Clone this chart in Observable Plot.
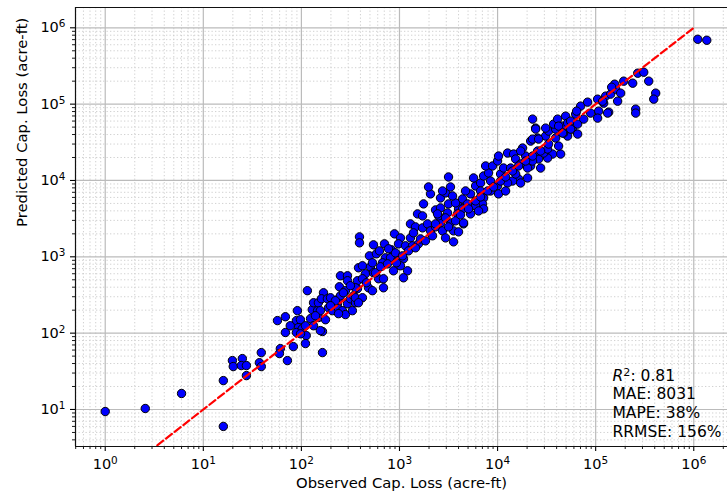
<!DOCTYPE html>
<html><head><meta charset="utf-8">
<script src="https://cdn.jsdelivr.net/npm/d3@7"></script>
<script src="https://cdn.jsdelivr.net/npm/@observablehq/plot@0.6"></script>
<style>body{margin:0;background:#fff} svg{display:block}</style>
</head><body><div id="chart"></div>
<script>
// Observed vs predicted capacity loss (acre-ft)
const observed = [
1,2.56,6.0,16,16,19.8,20.2,25,24.4,27.5,27.5,39,37.3,39,61,59.7,72,57,68.7,68.7,
82.8,91,89,97.7,93,89,102,112,115,124,133,129,146,149,164,164,176,133,149,168,
160,184,189,207,233,239,244,239,262,281,295,316,331,356,373,250,295,295,382,340,
391,391,543,703,889,1023,828,977,1151,1294,1358,1563,1294,1456,1718,1931,2070,2330,2620,2746,
2946,3556,3556,4498,1758,2070,2620,2946,3162,3090,2500,2330,3908,4000,4713,1527,494,582,625,720,
809,955,1099,1023,869,1208,1099,419,450,506,543,611,687,483,530,373,356,281,250,356,
419,687,671,382,198,156,239,110,98,156,
3162,1977,2746,3311,2620,3726,4395,5300,5970,5690,6710,7200,8090,7550,8890,10000,10230,12650,14560,17990,
21730,25590,24430,30900,33110,39080,37240,46030,51760,43950,36390,32360,26180,25590,27480,21730,20230,16370,14220,12650,
10730,11510,13580,10000,10230,8490,7200,7030,5970,4940,4395,3908,4498,3311,2946,2443,2330,15280,17180,19310,
8490,6710,4000,5300,
22750,24430,22750,26180,30900,40930,41900,49430,51760,47100,58210,59700,62520,65500,70310,82800,104700,107300,104700,120700,
126500,142200,135800,160000,156300,179900,167500,193200,238600,255900,255900,268400,309000,347500,409300,390800,1099000,1358000,145500,117800,
132400,7200,29440,32360,55590,65500,63970,20230,15280,17180,22750,
222,268,316,419,460,569,640,755,910,1074,1236,1456,1637,1841,2172,3162,3726,4190,5060,5970,
6710,7910,9100,10730,12070,14220,16370,19310,22750,27480,33110,39080,46030,55590,75500,88900,198,530,773,931,
1390,1718,3475,4713,6400,12070,17180,41900,139,77,110
];
const predicted = [
9.4,10.3,16.2,6.0,23.9,43.7,36.5,46.4,37.6,37.6,27.8,55.6,41,36.5,62.7,54,43.7,146,164,102,
66.6,197,146,150,118,102,114,93,360,155,125,203,197,160,105,55.6,150,250,250,338,
282,282,215,197,243,282,405,209,197,175,243,282,197,250,382,564,564,486,718,309,
1825,1524,1435,1479,2000,1770,1235,1479,1393,1770,1393,1479,2700,2466,2393,2700,2188,2466,2782,2188,
1770,2188,1570,2700,4932,6668,5902,6870,4932,3758,3435,4112,4932,4240,4645,3648,1030,1095,1197,970,
970,887,942,763,656,656,531,763,600,740,618,516,516,393,360,486,393,360,309,291,
291,393,835,250,291,197,180,125,98,108,
11110,8222,7290,8222,4374,5082,5730,6668,8472,10790,9270,11450,12530,15490,15490,17990,20900,22870,22200,26600,
32810,35970,48530,38190,44360,47100,54800,51560,38190,22200,22200,19680,19100,24320,14560,15490,10790,10470,9840,9270,
12160,14560,14560,8472,6668,7290,5902,4932,4645,4932,4240,3648,2782,2782,3236,3648,2700,19100,16440,20900,
9840,7290,2122,3648,
63680,47100,34830,34830,48530,63680,51560,69660,56480,41780,47100,56480,73980,40550,94200,106200,116200,81000,65600,103000,
127400,135200,78600,157000,182500,139300,109400,200000,188200,86000,76300,254300,261900,200000,139300,116200,707900,687000,166700,109400,
76300,4240,22870,25820,59980,54800,81000,14560,12160,9270,17990,
266,338,418,516,457,618,740,809,1127,1030,1197,1312,1718,1618,1884,2466,2958,3540,4240,5395,
6085,7290,8222,9840,11110,13300,15490,17990,20900,24320,29990,35970,41780,47100,63680,76300,229,835,1273,835,
2061,3435,6270,7290,3990,7290,24320,28250,169,125,73
];
const xMajorTicks = [1, 10, 100, 1e3, 1e4, 1e5, 1e6];
const yMajorTicks = [10, 100, 1e3, 1e4, 1e5, 1e6];
const superscripts = ["⁰","¹","²","³","⁴","⁵","⁶"];
const statLines = ["R²: 0.81", "MAE: 8031", "MAPE: 38%", "RRMSE: 156%"];
const xLabel = "Observed Cap. Loss (acre-ft)";
const yLabel = "Predicted Cap. Loss (acre-ft)";
const identityLine = [1, 1e6];

const xDomain = [Math.pow(10, -0.303), Math.pow(10, 6.344)];
const yDomain = [Math.pow(10, 0.515), Math.pow(10, 6.266)];

const data = observed.map((o, i) => ({obs: o, pred: predicted[i]}));

function minorTicks(domain) {
  const out = [];
  for (let d = -1; d <= 6; d++) {
    for (let k = 2; k <= 9; k++) {
      const v = k * Math.pow(10, d);
      if (v >= domain[0] && v <= domain[1]) out.push(v);
    }
  }
  return out;
}
const xMinor = minorTicks(xDomain);
const yMinor = minorTicks(yDomain);
const fmt = v => "10" + superscripts[Math.round(Math.log10(v))];

const chart = Plot.plot({
  width: 727, height: 495,
  marginLeft: 75, marginRight: 0, marginTop: 7, marginBottom: 49,
  style: {fontFamily: "DejaVu Sans", fontSize: "14.5px", background: "white", color: "black", overflow: "visible"},
  x: {type: "log", domain: xDomain, label: null},
  y: {type: "log", domain: yDomain, label: null},
  marks: [
    Plot.ruleX(xMinor, {stroke: "#cccccc", strokeWidth: 0.9, strokeDasharray: "1.3,2.2"}),
    Plot.ruleY(yMinor, {stroke: "#cccccc", strokeWidth: 0.9, strokeDasharray: "1.3,2.2"}),
    Plot.ruleX(xMajorTicks, {stroke: "#bbbbbb", strokeWidth: 1.2}),
    Plot.ruleY(yMajorTicks, {stroke: "#bbbbbb", strokeWidth: 1.2}),
    Plot.dot(data, {x: "obs", y: "pred", r: 4.2, fill: "#0000ff", stroke: "black", strokeWidth: 1}),
    Plot.line(identityLine, {x: d => d, y: d => d, stroke: "red", strokeWidth: 2.2, strokeDasharray: "7.5,3.5", clip: true}),
    Plot.axisX({ticks: xMinor, tickSize: 3, tickFormat: () => "", label: null, strokeWidth: 0.9}),
    Plot.axisY({ticks: yMinor, tickSize: 3, tickFormat: () => "", label: null, strokeWidth: 0.9}),
    Plot.axisX({ticks: xMajorTicks, tickSize: 5, tickPadding: 7, tickFormat: fmt, label: null, strokeWidth: 1.1, fontSize: 14.5}),
    Plot.axisY({ticks: yMajorTicks, tickSize: 5, tickPadding: 5, tickFormat: fmt, label: null, strokeWidth: 1.1, fontSize: 14.5}),
    Plot.ruleX([xDomain[0]], {stroke: "#111", strokeWidth: 1.2}),
    Plot.ruleY([yDomain[0]], {stroke: "#111", strokeWidth: 1.2}),
    Plot.ruleY([yDomain[1]], {stroke: "#111", strokeWidth: 1.2}),
    Plot.text([statLines.join("\n")], {text: d => d, frameAnchor: "bottom-right", textAnchor: "start", lineAnchor: "bottom", lineHeight: 1.2, dx: -115, dy: -10, fontSize: 15.5, fill: "black"}),
    Plot.text([xLabel], {text: d => d, frameAnchor: "bottom", dy: 41, fontSize: 14.8, fill: "black"}),
    Plot.text([yLabel], {text: d => d, frameAnchor: "left", dx: -53, rotate: -90, fontSize: 14.8, fill: "black"})
  ]
});
document.getElementById("chart").appendChild(chart);

const supMap = {"⁰":"0","¹":"1","²":"2","³":"3","⁴":"4","⁵":"5","⁶":"6"};
// Tick labels: render exponent as raised smaller digit, like matplotlib mathtext
d3.select(chart).selectAll("text").each(function() {
  const el = d3.select(this);
  if (el.selectAll("tspan").size() > 0) return;
  const s = el.text();
  const m = /^10([⁰¹²³⁴⁵⁶])$/.exec(s);
  if (m) {
    el.text("");
    el.append("tspan").text("10");
    el.append("tspan").attr("font-size", "72%").attr("baseline-shift", "48%").text(supMap[m[1]]);
  }
});
// Italic R with superscript 2 in the R² line
d3.select(chart).selectAll("tspan").each(function() {
  const t = d3.select(this);
  if (t.text() === statLines[0]) {
    t.text("");
    t.append("tspan").attr("font-style", "italic").text("R");
    t.append("tspan").attr("font-size", "72%").attr("baseline-shift", "48%").text("2");
    t.append("tspan").text(statLines[0].slice(2));
  }
});
</script>
</body></html>
